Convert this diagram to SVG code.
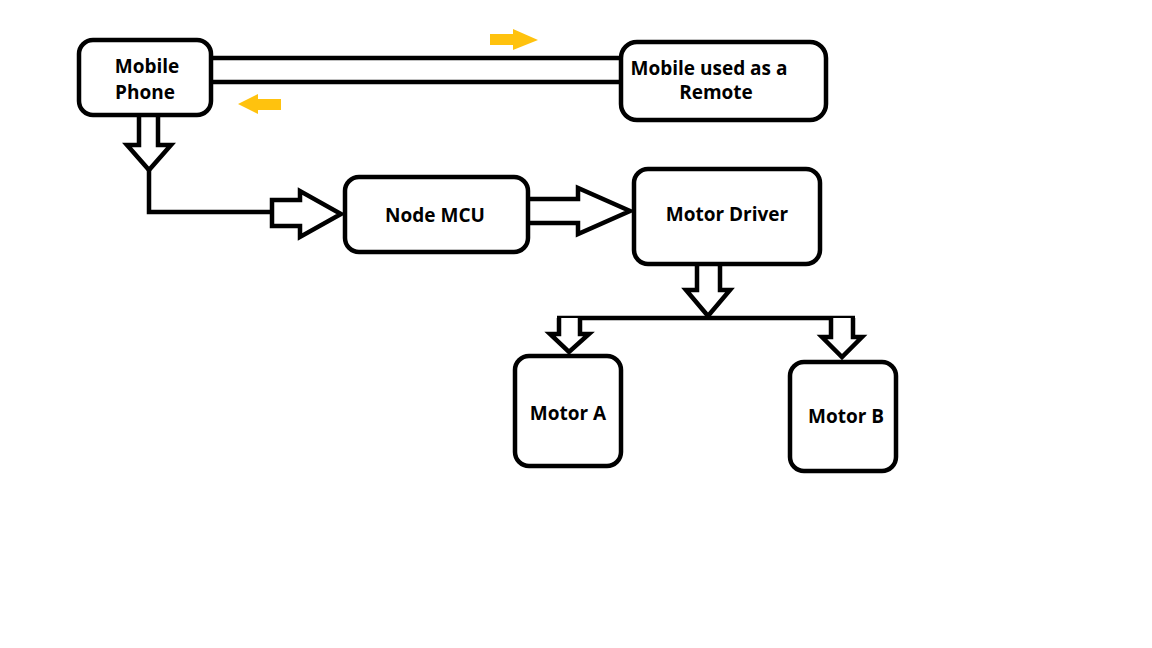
<svg xmlns="http://www.w3.org/2000/svg" width="1152" height="648" viewBox="0 0 1152 648">
<style>
.box{fill:#fff;stroke:#000;stroke-width:4.5}
.lbl{font-family:"Open Sans","Liberation Sans",sans-serif;font-weight:bold;font-size:19px;fill:#000;text-anchor:middle}
.conn{fill:none;stroke:#000;stroke-width:4.5;stroke-linejoin:miter}
.blk{fill:#fff;stroke:#000;stroke-width:4.5;stroke-linejoin:miter}
.yel{fill:#FFC20E;stroke:none}
</style>
<rect width="1152" height="648" fill="#fff"/>
<g id="connectors">
<line class="conn" x1="211" y1="58" x2="622" y2="58"/>
<line class="conn" x1="211" y1="82" x2="622" y2="82"/>
<polygon class="yel" points="490,34 513,34 513,29 538,40 513,50 513,45 490,45"/>
<polygon class="yel" points="281,99 258,99 258,94 238,104 258,114 258,110 281,110"/>
<polyline class="blk" points="139,116 139,145 127,145 149,170 171,145 158,145 158,116"/>
<polyline class="conn" points="149,170 149,212 272,212"/>
<polygon class="blk" points="272,200 300,200 300,191 341,214 300,237 300,226 272,226"/>
<polyline class="blk" points="530,199 578,199 578,188 630,211 578,234 578,223 530,223"/>
<polyline class="blk" points="697,265 697,290 686,290 708,316 730,290 720,290 720,265"/>
<line class="conn" x1="557" y1="318" x2="855" y2="318"/>
<polyline class="blk" points="559,318 559,334 550,334 569,352 589,334 580,334 580,318"/>
<polyline class="blk" points="831,318 831,337 822,337 842,357 862,337 853,337 853,318"/>
</g>
<g id="mobile-phone">
<rect class="box" x="79" y="40" width="132" height="75" rx="14"/>
<text class="lbl" x="147" y="73">Mobile</text>
<text class="lbl" x="145" y="99">Phone</text>
</g>
<g id="remote">
<rect class="box" x="621" y="42" width="205" height="78" rx="16"/>
<text class="lbl" x="709" y="75">Mobile used as a</text>
<text class="lbl" x="716" y="99">Remote</text>
</g>
<g id="node-mcu">
<rect class="box" x="345" y="177" width="183" height="75" rx="14"/>
<text class="lbl" x="435" y="222">Node MCU</text>
</g>
<g id="motor-driver">
<rect class="box" x="634" y="169" width="186" height="95" rx="14"/>
<text class="lbl" x="727" y="221">Motor Driver</text>
</g>
<g id="motor-a">
<rect class="box" x="515" y="356" width="106" height="110" rx="14"/>
<text class="lbl" x="568" y="420">Motor A</text>
</g>
<g id="motor-b">
<rect class="box" x="790" y="362" width="106" height="109" rx="14"/>
<text class="lbl" x="846" y="423">Motor B</text>
</g>
</svg>
